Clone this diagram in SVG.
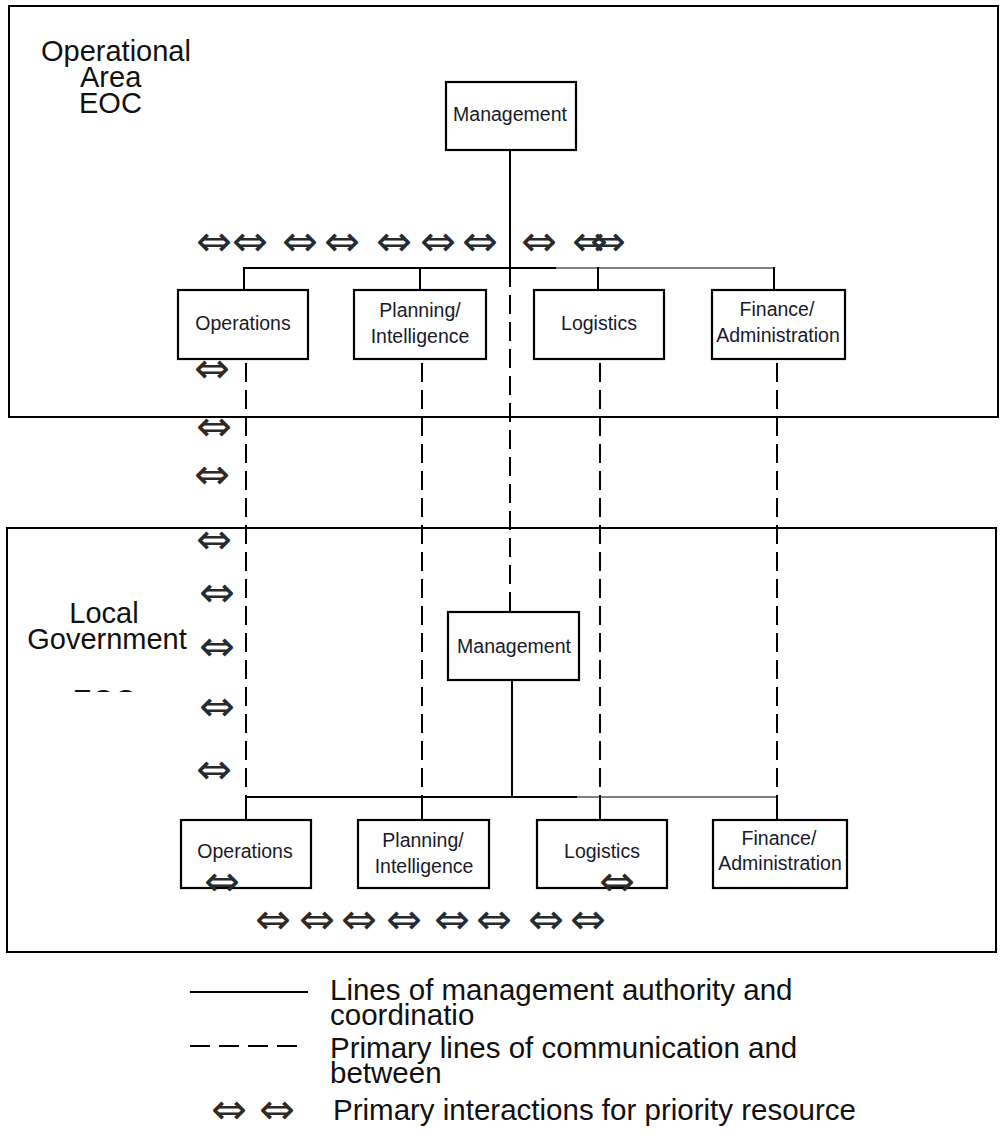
<svg xmlns="http://www.w3.org/2000/svg" width="1000" height="1137" viewBox="0 0 1000 1137">
<defs>
<style>
.frame{fill:none;stroke:#000;stroke-width:2}
.box{fill:#fff;stroke:#000;stroke-width:2.2}
.bt{font-family:"Liberation Sans",Arial,sans-serif;font-size:19.5px;text-anchor:middle;fill:#1a1a2a}
.lb{font-family:"Liberation Sans",Arial,sans-serif;font-size:29px;fill:#111}
.lg{font-family:"Liberation Sans",Arial,sans-serif;font-size:29.5px;fill:#111}
.ar{font-family:"DejaVu Sans",sans-serif;font-size:43px;text-anchor:middle;fill:#2a2a2a}
.solid{stroke:#000;stroke-width:2;fill:none}
.thin{stroke:#555;stroke-width:1.6;fill:none}
.dash{stroke:#000;stroke-width:2;fill:none;stroke-dasharray:19 8}
</style>
<clipPath id="eocclip"><rect x="0" y="600" width="300" height="92"/></clipPath>
</defs>
<rect width="1000" height="1137" fill="#fff"/>

<g id="area-eoc">
<rect class="frame" x="9" y="6" width="989" height="411"/>
<text class="lb" x="41" y="61">Operational</text>
<text class="lb" x="80" y="87">Area</text>
<text class="lb" x="79" y="113">EOC</text>
</g>
<g id="local-eoc">
<rect class="frame" x="7" y="528" width="989" height="424"/>
<text class="lb" x="104" y="623" text-anchor="middle">Local</text>
<text class="lb" x="107" y="649" text-anchor="middle">Government</text>
<text class="lb" x="104" y="710" text-anchor="middle" clip-path="url(#eocclip)">EOC</text>
</g>

<g id="connectors">
<line class="solid" x1="510" y1="150" x2="510" y2="268"/>
<line class="dash" x1="510" y1="268" x2="510" y2="612"/>
<line class="solid" x1="243" y1="268" x2="556" y2="268"/>
<line class="thin" x1="556" y1="268" x2="775" y2="268"/>
<line class="solid" x1="244" y1="267" x2="244" y2="290"/>
<line class="solid" x1="420" y1="267" x2="420" y2="290"/>
<line class="solid" x1="598" y1="267" x2="598" y2="290"/>
<line class="solid" x1="774" y1="267" x2="774" y2="290"/>

<line class="dash" x1="246" y1="363" x2="246" y2="796"/>
<line class="dash" x1="422" y1="363" x2="422" y2="797"/>
<line class="dash" x1="600" y1="363" x2="600" y2="797"/>
<line class="dash" x1="777" y1="363" x2="777" y2="797"/>

<line class="solid" x1="512" y1="680" x2="512" y2="797"/>
<line class="solid" x1="245" y1="797" x2="577" y2="797"/>
<line class="thin" x1="577" y1="797" x2="777" y2="797"/>
<line class="solid" x1="246" y1="796" x2="246" y2="820"/>
<line class="solid" x1="422" y1="796" x2="422" y2="820"/>
<line class="solid" x1="600" y1="796" x2="600" y2="820"/>
<line class="solid" x1="777" y1="796" x2="777" y2="820"/>
</g>

<g id="top-management">
<rect class="box" x="446" y="82" width="130" height="68"/>
<text class="bt" x="510" y="121">Management</text>
</g>
<g id="top-operations">
<rect class="box" x="178" y="290" width="130" height="69"/>
<text class="bt" x="243" y="330">Operations</text>
</g>
<g id="top-planning">
<rect class="box" x="354" y="290" width="132" height="69"/>
<text class="bt" x="420" y="317">Planning/</text>
<text class="bt" x="420" y="343">Intelligence</text>
</g>
<g id="top-logistics">
<rect class="box" x="534" y="290" width="130" height="69"/>
<text class="bt" x="599" y="330">Logistics</text>
</g>
<g id="top-finance">
<rect class="box" x="712" y="290" width="133" height="69"/>
<text class="bt" x="777" y="316">Finance/</text>
<text class="bt" x="778" y="342">Administration</text>
</g>

<g id="bottom-management">
<rect class="box" x="448" y="612" width="131" height="68"/>
<text class="bt" x="514" y="653">Management</text>
</g>
<g id="bottom-operations">
<rect class="box" x="181" y="820" width="130" height="68"/>
<text class="bt" x="245" y="858">Operations</text>
</g>
<g id="bottom-planning">
<rect class="box" x="358" y="820" width="131" height="68"/>
<text class="bt" x="423" y="847">Planning/</text>
<text class="bt" x="424" y="873">Intelligence</text>
</g>
<g id="bottom-logistics">
<rect class="box" x="537" y="820" width="130" height="68"/>
<text class="bt" x="602" y="858">Logistics</text>
</g>
<g id="bottom-finance">
<rect class="box" x="713" y="820" width="134" height="68"/>
<text class="bt" x="779" y="845">Finance/</text>
<text class="bt" x="780" y="870">Administration</text>
</g>

<g id="interactions">
<text class="ar" x="214" y="256">⇔</text>
<text class="ar" x="250" y="256">⇔</text>
<text class="ar" x="300" y="256">⇔</text>
<text class="ar" x="342" y="256">⇔</text>
<text class="ar" x="394" y="256">⇔</text>
<text class="ar" x="438" y="256">⇔</text>
<text class="ar" x="480" y="256">⇔</text>
<text class="ar" x="539" y="256">⇔</text>
<text class="ar" x="590" y="256">⇔</text>
<text class="ar" x="608" y="256">⇔</text>

<text class="ar" x="212" y="383">⇔</text>
<text class="ar" x="214" y="441">⇔</text>
<text class="ar" x="212" y="489">⇔</text>
<text class="ar" x="214" y="554">⇔</text>
<text class="ar" x="217" y="607">⇔</text>
<text class="ar" x="217" y="661">⇔</text>
<text class="ar" x="217" y="721">⇔</text>
<text class="ar" x="214" y="784">⇔</text>

<text class="ar" x="222" y="896">⇔</text>
<text class="ar" x="617" y="896">⇔</text>

<text class="ar" x="273" y="934">⇔</text>
<text class="ar" x="317" y="934">⇔</text>
<text class="ar" x="359" y="934">⇔</text>
<text class="ar" x="404" y="934">⇔</text>
<text class="ar" x="452" y="934">⇔</text>
<text class="ar" x="494" y="934">⇔</text>
<text class="ar" x="546" y="934">⇔</text>
<text class="ar" x="588" y="934">⇔</text>
</g>

<g id="legend">
<line class="solid" x1="190" y1="992" x2="308" y2="992"/>
<line class="dash" x1="190" y1="1046" x2="300" y2="1046" style="stroke-dasharray:20 9"/>
<text class="ar" x="229" y="1124">⇔</text>
<text class="ar" x="277" y="1124">⇔</text>
<text class="lg" x="330" y="1000">Lines of management authority and</text>
<text class="lg" x="330" y="1025">coordinatio</text>
<text class="lg" x="330" y="1058">Primary lines of communication and</text>
<text class="lg" x="330" y="1083">between</text>
<text class="lg" x="333" y="1120">Primary interactions for priority resource</text>
</g>
</svg>
